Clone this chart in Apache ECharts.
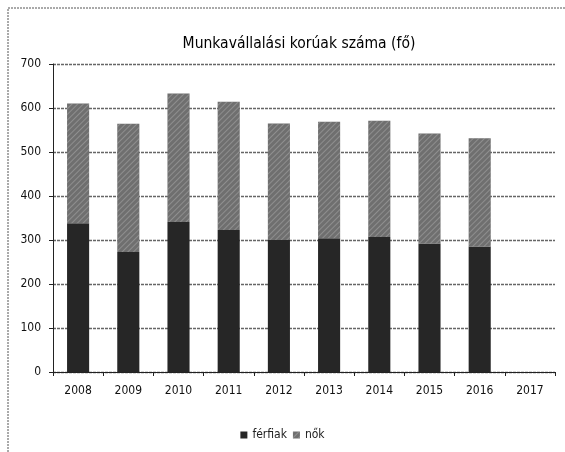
<!DOCTYPE html>
<html>
<head>
<meta charset="utf-8">
<script src="https://cdn.jsdelivr.net/npm/echarts@6/dist/echarts.min.js"></script>
<style>
  html, body { margin: 0; padding: 0; background: #fff; }
  #chart { width: 565px; height: 452px; }
</style>
</head>
<body>
<div id="chart"></div>
<script>
// évek (kategóriák)
const years = ['2008', '2009', '2010', '2011', '2012', '2013', '2014', '2015', '2016', '2017'];
// férfiak (alsó rész)
const ferfiak = [338, 273, 341, 323, 300, 304, 307, 292, 285, null];
// nők (felső rész)
const nok = [272, 291, 292, 291, 265, 265, 264, 250, 246, null];

const font = "'Liberation Sans Narrow', 'DejaVu Sans Condensed', 'Liberation Sans', sans-serif";

var myChart = echarts.init(document.getElementById('chart'));

let option = {
    animation: false,
    backgroundColor: '#fff',
    title: {
        text: 'Munkavállalási korúak száma (fő)',
        left: 294,
        textAlign: 'center',
        top: 31,
        textStyle: {
            fontSize: 15.5,
            fontWeight: 'normal',
            fontFamily: font,
            color: '#000'
        }
    },
    legend: {
        bottom: 6,
        left: 'center',
        icon: 'rect',
        itemWidth: 7,
        itemHeight: 7,
        itemGap: 6,
        textStyle: { fontFamily: font, fontSize: 12, color: '#222' },
        data: ['férfiak', 'nők']
    },
    grid: {
        left: 53,
        right: 10,
        top: 64,
        bottom: 80
    },
    xAxis: {
        type: 'category',
        data: years,
        axisLine: { lineStyle: { color: '#222', width: 1 } },
        axisTick: { show: true, length: 4, lineStyle: { color: '#222' } },
        axisLabel: { color: '#111', fontFamily: font, fontSize: 12, margin: 13 }
    },
    yAxis: {
        type: 'value',
        min: 0,
        max: 700,
        interval: 100,
        axisLine: { show: true, lineStyle: { color: '#222', width: 1 } },
        axisTick: { show: true, length: 4, lineStyle: { color: '#222' } },
        axisLabel: { color: '#111', fontFamily: font, fontSize: 12, margin: 12 },
        splitLine: { lineStyle: { color: '#666', width: 1.3, type: [3, 1] } }
    },
    series: [
        {
            name: 'férfiak',
            type: 'bar',
            stack: 'osszes',
            barWidth: '44%',
            itemStyle: { color: '#262626' },
            data: ferfiak
        },
        {
            name: 'nők',
            type: 'bar',
            stack: 'osszes',
            barWidth: '44%',
            itemStyle: {
                color: '#6f6f6f',
                decal: {
                    symbol: 'rect',
                    color: 'rgba(200,200,200,0.35)',
                    dashArrayX: [1, 0],
                    dashArrayY: [1, 3],
                    rotation: -Math.PI / 4
                }
            },
            data: nok
        }
    ],
    graphic: [
        {
            type: 'polyline',
            shape: { points: [[8, 452], [8, 8], [565, 8]] },
            style: { stroke: '#555', lineWidth: 1, fill: null, lineDash: [2, 1] },
            silent: true
        }
    ]
};

myChart.setOption(option);
</script>
</body>
</html>
